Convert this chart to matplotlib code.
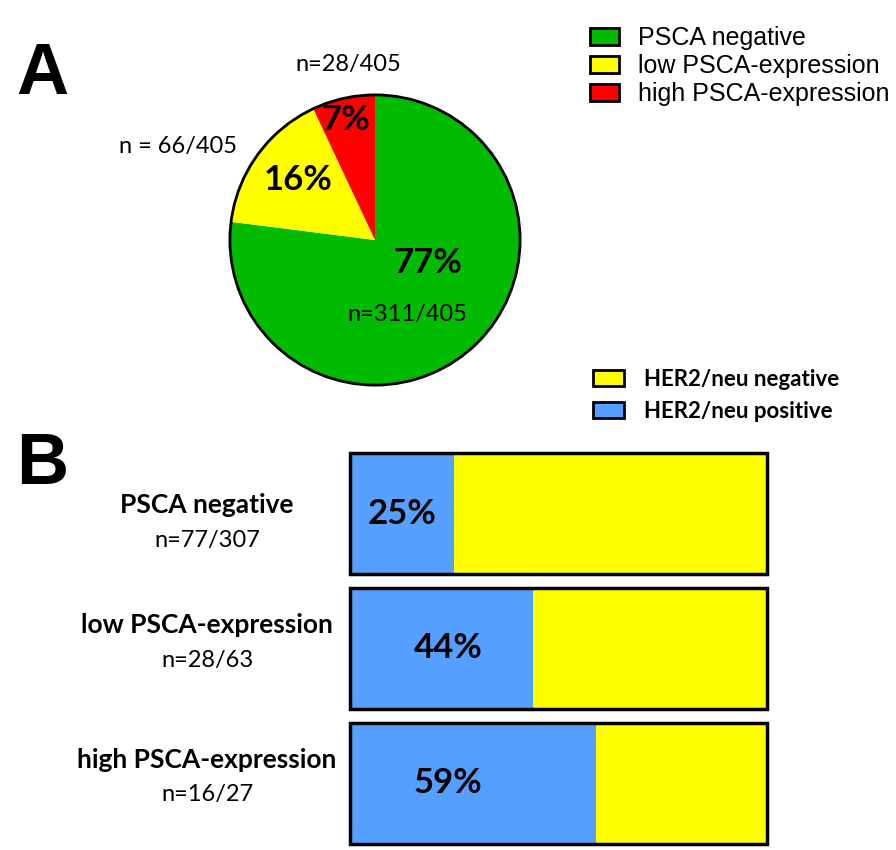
import matplotlib.pyplot as plt
from matplotlib.patches import Patch

W, H = 896, 850

# Panel A data
pie_labels = ['PSCA negative', 'low PSCA-expression', 'high PSCA-expression']
pie_pct = [77, 16, 7]
pie_counts = ['n=311/405', 'n = 66/405', 'n=28/405']
pie_colors = ['#00bb00', '#ffff00', '#ff0000']

# Panel B data
groups = ['PSCA negative', 'low PSCA-expression', 'high PSCA-expression']
group_counts = ['n=77/307', 'n=28/63', 'n=16/27']
her2_pos = [25, 44, 59]
bar_colors = {'neg': '#ffff00', 'pos': '#55a0ff'}

body = ['Lato', 'DejaVu Sans']

fig = plt.figure(figsize=(W / 100, H / 100), dpi=100)


def fx(x):
    return x / W


def fy(y):
    return 1 - y / H


# ---- A: pie ----
ax1 = fig.add_axes([fx(227), fy(388), 296 / W, 296 / H])
wedges, _ = ax1.pie(pie_pct, colors=pie_colors, startangle=90, counterclock=False,
                    wedgeprops=dict(linewidth=0))
ax1.add_patch(plt.Circle((0, 0), 1, fill=False, edgecolor='black', linewidth=2))
ax1.set_xlim(-1.02, 1.02)
ax1.set_ylim(-1.02, 1.02)
ax1.set_aspect('equal')

# percentage labels inside slices
pct_pos = [(428, 263), (298, 180), (346, 120)]
for p, (x, y) in zip(pie_pct, pct_pos):
    fig.text(fx(x), fy(y), f'{p}%', ha='center', va='center', fontsize=25,
             fontweight='bold', family=body)
cnt_pos = [(407, 315), (178, 147), (348, 65)]
for c, (x, y) in zip(pie_counts, cnt_pos):
    fig.text(fx(x), fy(y), c, ha='center', va='center', fontsize=17, family=body)

fig.text(fx(42), fy(75), 'A', ha='center', va='center', fontsize=52,
         fontweight='bold', family=['Liberation Sans', 'DejaVu Sans'])

leg1 = fig.legend([Patch(facecolor=c, edgecolor='black', linewidth=2) for c in pie_colors],
                  pie_labels, loc='upper left', bbox_to_anchor=(fx(580), fy(16)),
                  frameon=False, handlelength=1.15, handleheight=0.65, handletextpad=0.75,
                  labelspacing=0.17, borderaxespad=0,
                  prop=dict(family=['Liberation Sans', 'DejaVu Sans'], size=18))

# ---- B: stacked bars ----
ax2 = fig.add_axes([fx(350), fy(845), 417 / W, 393 / H])
ypos = list(range(len(groups)))
neg = [100 - p for p in her2_pos]
ax2.barh(ypos, her2_pos, height=0.9, color=bar_colors['pos'], linewidth=0)
ax2.barh(ypos, neg, left=her2_pos, height=0.9, color=bar_colors['neg'], linewidth=0)
ax2.barh(ypos, [100] * len(groups), height=0.9, fill=False, edgecolor='black',
         linewidth=2.5, clip_on=False)
ax2.set_xlim(0, 100)
ax2.set_ylim(2.46, -0.46)
ax2.axis('off')

for i, p in enumerate(her2_pos):
    xc = p / 2 if p < 40 else 23.5
    ax2.text(xc, i, f'{p}%', ha='center', va='center', fontsize=25,
             fontweight='bold', family=body)

lab_y = [505, 625, 760]
for g, c, y in zip(groups, group_counts, lab_y):
    fig.text(fx(207), fy(y), g, ha='center', va='center', fontsize=19,
             fontweight='bold', family=body)
    fig.text(fx(207), fy(y + 35), c, ha='center', va='center', fontsize=17, family=body)

fig.text(fx(42), fy(465), 'B', ha='center', va='center', fontsize=52,
         fontweight='bold', family=['Liberation Sans', 'DejaVu Sans'])

leg2 = fig.legend([Patch(facecolor=bar_colors['neg'], edgecolor='black', linewidth=2),
                   Patch(facecolor=bar_colors['pos'], edgecolor='black', linewidth=2)],
                  ['HER2/neu negative', 'HER2/neu positive'], loc='upper left',
                  bbox_to_anchor=(fx(584), fy(360)), frameon=False, handlelength=1.4,
                  handleheight=0.7, handletextpad=0.9, labelspacing=0.5, borderaxespad=0,
                  prop=dict(family=body, size=16, weight='bold'))

fig.savefig('out.png', dpi=100)
